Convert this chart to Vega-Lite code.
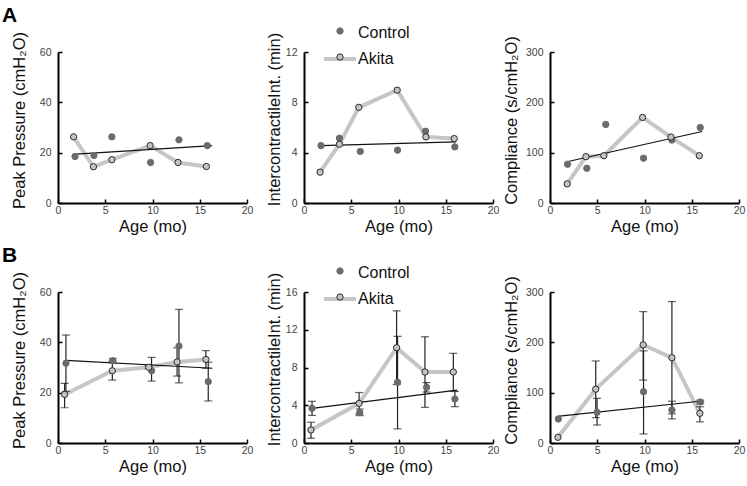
{
  "$schema": "https://vega.github.io/schema/vega-lite/v6.json",
  "padding": {"left": 2, "top": 4, "right": 5, "bottom": 5},
  "bounds": "flush",
  "columns": 3,
  "spacing": {"row": 89, "column": 57},
  "resolve": {"scale": {"color": "independent", "fill": "independent", "stroke": "independent"}, "legend": {"color": "independent", "fill": "independent", "stroke": "independent"}},
  "data": {"values": [
    {"p":"A1","g":"Control","age":1.8,"v":18.5},{"p":"A1","g":"Control","age":3.8,"v":18.9},{"p":"A1","g":"Control","age":5.7,"v":26.3},{"p":"A1","g":"Control","age":9.8,"v":16.1},{"p":"A1","g":"Control","age":12.8,"v":25.1},{"p":"A1","g":"Control","age":15.8,"v":22.8},
    {"p":"A1","g":"Akita","age":1.65,"v":26.3},{"p":"A1","g":"Akita","age":3.75,"v":14.4},{"p":"A1","g":"Akita","age":5.7,"v":17.2},{"p":"A1","g":"Akita","age":9.75,"v":22.8},{"p":"A1","g":"Akita","age":12.7,"v":16.1},{"p":"A1","g":"Akita","age":15.7,"v":14.5},
    {"p":"A1","g":"Trend","age":1.93,"v":19.4},{"p":"A1","g":"Trend","age":16.3,"v":22.8},
    {"p":"A2","g":"Control","age":1.8,"v":4.56},{"p":"A2","g":"Control","age":3.75,"v":5.15},{"p":"A2","g":"Control","age":5.96,"v":4.1},{"p":"A2","g":"Control","age":9.9,"v":4.2},{"p":"A2","g":"Control","age":12.86,"v":5.7},{"p":"A2","g":"Control","age":15.96,"v":4.46},
    {"p":"A2","g":"Akita","age":1.7,"v":2.45},{"p":"A2","g":"Akita","age":3.75,"v":4.67},{"p":"A2","g":"Akita","age":5.8,"v":7.6},{"p":"A2","g":"Akita","age":9.86,"v":8.97},{"p":"A2","g":"Akita","age":12.9,"v":5.25},{"p":"A2","g":"Akita","age":15.9,"v":5.12},
    {"p":"A2","g":"Trend","age":1.8,"v":4.56},{"p":"A2","g":"Trend","age":16.1,"v":4.85},
    {"p":"A3","g":"Control","age":1.86,"v":77},{"p":"A3","g":"Control","age":3.9,"v":69},{"p":"A3","g":"Control","age":5.9,"v":156},{"p":"A3","g":"Control","age":9.9,"v":89},{"p":"A3","g":"Control","age":12.9,"v":125},{"p":"A3","g":"Control","age":15.9,"v":150},
    {"p":"A3","g":"Akita","age":1.82,"v":38},{"p":"A3","g":"Akita","age":3.8,"v":92},{"p":"A3","g":"Akita","age":5.7,"v":94},{"p":"A3","g":"Akita","age":9.8,"v":170},{"p":"A3","g":"Akita","age":12.8,"v":131},{"p":"A3","g":"Akita","age":15.8,"v":94},
    {"p":"A3","g":"Trend","age":1.8,"v":82},{"p":"A3","g":"Trend","age":16.1,"v":142},
    {"p":"B1","g":"Control","age":0.84,"v":31.7,"lo":20.5,"hi":42.9},{"p":"B1","g":"Control","age":5.8,"v":32.7,"lo":31.8,"hi":33.6},{"p":"B1","g":"Control","age":9.9,"v":28.7,"lo":24.6,"hi":34.0},{"p":"B1","g":"Control","age":12.8,"v":38.5,"lo":23.9,"hi":53.1},{"p":"B1","g":"Control","age":15.9,"v":24.4,"lo":16.7,"hi":32.1},
    {"p":"B1","g":"Akita","age":0.7,"v":19.3,"lo":14.0,"hi":23.7},{"p":"B1","g":"Akita","age":5.75,"v":28.7,"lo":25.0,"hi":32.4},{"p":"B1","g":"Akita","age":9.6,"v":30.1,"lo":29.5,"hi":30.7},{"p":"B1","g":"Akita","age":12.6,"v":32.2,"lo":26.6,"hi":37.8},{"p":"B1","g":"Akita","age":15.65,"v":33.2,"lo":29.7,"hi":36.7},
    {"p":"B1","g":"Trend","age":0.84,"v":32.8},{"p":"B1","g":"Trend","age":16.35,"v":29.7},
    {"p":"B2","g":"Control","age":0.85,"v":3.67,"lo":2.92,"hi":4.42},{"p":"B2","g":"Control","age":5.9,"v":3.25,"lo":2.9,"hi":3.6},{"p":"B2","g":"Control","age":9.9,"v":6.43,"lo":1.5,"hi":11.3},{"p":"B2","g":"Control","age":12.97,"v":5.9,"lo":5.4,"hi":6.4},{"p":"B2","g":"Control","age":15.97,"v":4.66,"lo":3.85,"hi":5.46},
    {"p":"B2","g":"Akita","age":0.74,"v":1.38,"lo":0.5,"hi":2.2},{"p":"B2","g":"Akita","age":5.83,"v":4.2,"lo":3.05,"hi":5.35},{"p":"B2","g":"Akita","age":9.8,"v":10.1,"lo":6.2,"hi":14.0},{"p":"B2","g":"Akita","age":12.8,"v":7.52,"lo":3.78,"hi":11.26},{"p":"B2","g":"Akita","age":15.8,"v":7.52,"lo":5.5,"hi":9.5},
    {"p":"B2","g":"Trend","age":0.85,"v":3.67},{"p":"B2","g":"Trend","age":16.2,"v":5.6},
    {"p":"B3","g":"Control","age":0.88,"v":47.7},{"p":"B3","g":"Control","age":4.98,"v":61,"lo":35.8,"hi":88.8},{"p":"B3","g":"Control","age":9.9,"v":102,"lo":18,"hi":183},{"p":"B3","g":"Control","age":12.9,"v":65.6,"lo":48,"hi":83},{"p":"B3","g":"Control","age":15.9,"v":81.5,"lo":78,"hi":85},
    {"p":"B3","g":"Akita","age":0.84,"v":11.3},{"p":"B3","g":"Akita","age":4.84,"v":107,"lo":50.3,"hi":163},{"p":"B3","g":"Akita","age":9.86,"v":195,"lo":125,"hi":261},{"p":"B3","g":"Akita","age":12.9,"v":169.5,"lo":58,"hi":281},{"p":"B3","g":"Akita","age":15.86,"v":59,"lo":42,"hi":72},
    {"p":"B3","g":"Trend","age":0.77,"v":53},{"p":"B3","g":"Trend","age":16.1,"v":83.4}
  ]},
  "concat": [
    {
      "width": 189, "height": 151,
      "title": {"text": "A", "anchor": "start", "frame": "group", "fontSize": 21, "fontWeight": "bold", "color": "#000", "dx": -56, "offset": 6},
      "transform": [{"filter": "datum.p === 'A1'"}],
      "encoding": {
        "x": {"field": "age", "type": "quantitative", "scale": {"domain": [0, 20], "nice": false}, "axis": {"values": [0, 5, 10, 15, 20], "title": "Age (mo)"}},
        "y": {"field": "v", "type": "quantitative", "scale": {"domain": [0, 60], "nice": false}, "axis": {"values": [0, 20, 40, 60], "title": "Peak Pressure (cmH₂O)", "titleX": -31, "titleY": 68}}
      },
      "layer": [
        {"transform": [{"filter": "datum.g === 'Akita'"}], "mark": {"type": "line", "strokeWidth": 4, "color": "#c6c6c6"}, "encoding": {}},
        {"transform": [{"filter": "datum.g === 'Trend'"}], "mark": {"type": "line", "strokeWidth": 1.2, "color": "#111"}, "encoding": {}},
        {"transform": [{"filter": "datum.g !== 'Trend'"}], "mark": {"type": "point", "filled": true, "size": 40, "strokeWidth": 1, "opacity": 1},
         "encoding": {
           "fill": {"field": "g", "type": "nominal", "scale": {"domain": ["Control", "Akita"], "range": ["#6b6b6b", "#c4c4c4"]}, "legend": null},
           "stroke": {"field": "g", "type": "nominal", "scale": {"domain": ["Control", "Akita"], "range": ["#6b6b6b", "#2b2b2b"]}, "legend": null}
         }}
      ]
    },
    {
      "width": 189, "height": 151,
      "transform": [{"filter": "datum.p === 'A2'"}],
      "encoding": {
        "x": {"field": "age", "type": "quantitative", "scale": {"domain": [0, 20], "nice": false}, "axis": {"values": [0, 5, 10, 15, 20], "title": "Age (mo)"}},
        "y": {"field": "v", "type": "quantitative", "scale": {"domain": [0, 12], "nice": false}, "axis": {"values": [0, 4, 8, 12], "title": "IntercontractileInt. (min)", "titleX": -22, "titleY": 67}}
      },
      "layer": [
        {"transform": [{"filter": "datum.g === 'Akita'"}], "mark": {"type": "line", "strokeWidth": 4},
         "encoding": {"color": {"field": "g", "type": "nominal", "scale": {"domain": ["Akita", "Control"], "range": ["#c6c6c6", "rgba(0,0,0,0)"]},
           "legend": {"orient": "none", "legendX": 18, "legendY": -37, "values": ["Control", "Akita"], "title": null, "symbolType": "stroke", "symbolSize": 1024, "symbolStrokeWidth": 4, "labelFontSize": 16, "labelColor": "#111", "labelOffset": 0, "rowPadding": 0}}}},
        {"transform": [{"filter": "datum.g === 'Trend'"}], "mark": {"type": "line", "strokeWidth": 1.2, "color": "#111"}, "encoding": {}},
        {"transform": [{"filter": "datum.g !== 'Trend'"}], "mark": {"type": "point", "filled": true, "size": 40, "strokeWidth": 1, "opacity": 1},
         "encoding": {
           "fill": {"field": "g", "type": "nominal", "scale": {"domain": ["Control", "Akita"], "range": ["#6b6b6b", "#c4c4c4"]},
             "legend": {"orient": "none", "legendX": 28, "legendY": -29, "title": null, "symbolType": "circle", "symbolSize": 40, "symbolStrokeWidth": 1, "labelFontSize": 16, "labelExpr": "''", "rowPadding": 10}},
           "stroke": {"field": "g", "type": "nominal", "scale": {"domain": ["Control", "Akita"], "range": ["#6b6b6b", "#2b2b2b"]},
             "legend": {"orient": "none", "legendX": 28, "legendY": -29, "title": null, "symbolType": "circle", "symbolSize": 40, "symbolStrokeWidth": 1, "labelFontSize": 16, "labelExpr": "''", "rowPadding": 10}}
         }}
      ]
    },
    {
      "width": 189, "height": 151,
      "transform": [{"filter": "datum.p === 'A3'"}],
      "encoding": {
        "x": {"field": "age", "type": "quantitative", "scale": {"domain": [0, 20], "nice": false}, "axis": {"values": [0, 5, 10, 15, 20], "title": "Age (mo)"}},
        "y": {"field": "v", "type": "quantitative", "scale": {"domain": [0, 300], "nice": false}, "axis": {"values": [0, 100, 200, 300], "title": "Compliance (s/cmH₂O)", "titleX": -31, "titleY": 68}}
      },
      "layer": [
        {"transform": [{"filter": "datum.g === 'Akita'"}], "mark": {"type": "line", "strokeWidth": 4, "color": "#c6c6c6"}, "encoding": {}},
        {"transform": [{"filter": "datum.g === 'Trend'"}], "mark": {"type": "line", "strokeWidth": 1.2, "color": "#111"}, "encoding": {}},
        {"transform": [{"filter": "datum.g !== 'Trend'"}], "mark": {"type": "point", "filled": true, "size": 40, "strokeWidth": 1, "opacity": 1},
         "encoding": {
           "fill": {"field": "g", "type": "nominal", "scale": {"domain": ["Control", "Akita"], "range": ["#6b6b6b", "#c4c4c4"]}, "legend": null},
           "stroke": {"field": "g", "type": "nominal", "scale": {"domain": ["Control", "Akita"], "range": ["#6b6b6b", "#2b2b2b"]}, "legend": null}
         }}
      ]
    },
    {
      "width": 189, "height": 151,
      "title": {"text": "B", "anchor": "start", "frame": "group", "fontSize": 21, "fontWeight": "bold", "color": "#000", "dx": -56, "offset": 6},
      "transform": [{"filter": "datum.p === 'B1'"}],
      "encoding": {
        "x": {"field": "age", "type": "quantitative", "scale": {"domain": [0, 20], "nice": false}, "axis": {"values": [0, 5, 10, 15, 20], "title": "Age (mo)"}},
        "y": {"field": "v", "type": "quantitative", "scale": {"domain": [0, 60], "nice": false}, "axis": {"values": [0, 20, 40, 60], "title": "Peak Pressure (cmH₂O)", "titleX": -31, "titleY": 68}}
      },
      "layer": [
        {"transform": [{"filter": "datum.g === 'Akita'"}], "mark": {"type": "line", "strokeWidth": 4, "color": "#c6c6c6"}, "encoding": {}},
        {"transform": [{"filter": "datum.g === 'Trend'"}], "mark": {"type": "line", "strokeWidth": 1.2, "color": "#111"}, "encoding": {}},
        {"transform": [{"filter": "datum.g !== 'Trend' && isValid(datum.lo)"}], "mark": {"type": "errorbar", "ticks": true, "size": 8, "thickness": 1.2, "color": "#222"},
         "encoding": {"y": {"field": "lo", "type": "quantitative", "title": "Peak Pressure (cmH₂O)"}, "y2": {"field": "hi"}}},
        {"transform": [{"filter": "datum.g !== 'Trend'"}], "mark": {"type": "point", "filled": true, "size": 40, "strokeWidth": 1, "opacity": 1},
         "encoding": {
           "fill": {"field": "g", "type": "nominal", "scale": {"domain": ["Control", "Akita"], "range": ["#6b6b6b", "#c4c4c4"]}, "legend": null},
           "stroke": {"field": "g", "type": "nominal", "scale": {"domain": ["Control", "Akita"], "range": ["#6b6b6b", "#2b2b2b"]}, "legend": null}
         }}
      ]
    },
    {
      "width": 189, "height": 151,
      "transform": [{"filter": "datum.p === 'B2'"}],
      "encoding": {
        "x": {"field": "age", "type": "quantitative", "scale": {"domain": [0, 20], "nice": false}, "axis": {"values": [0, 5, 10, 15, 20], "title": "Age (mo)"}},
        "y": {"field": "v", "type": "quantitative", "scale": {"domain": [0, 16], "nice": false}, "axis": {"values": [0, 4, 8, 12, 16], "title": "IntercontractileInt. (min)", "titleX": -22, "titleY": 67}}
      },
      "layer": [
        {"transform": [{"filter": "datum.g === 'Akita'"}], "mark": {"type": "line", "strokeWidth": 4},
         "encoding": {"color": {"field": "g", "type": "nominal", "scale": {"domain": ["Akita", "Control"], "range": ["#c6c6c6", "rgba(0,0,0,0)"]},
           "legend": {"orient": "none", "legendX": 18, "legendY": -37, "values": ["Control", "Akita"], "title": null, "symbolType": "stroke", "symbolSize": 1024, "symbolStrokeWidth": 4, "labelFontSize": 16, "labelColor": "#111", "labelOffset": 0, "rowPadding": 0}}}},
        {"transform": [{"filter": "datum.g === 'Trend'"}], "mark": {"type": "line", "strokeWidth": 1.2, "color": "#111"}, "encoding": {}},
        {"transform": [{"filter": "datum.g !== 'Trend' && isValid(datum.lo)"}], "mark": {"type": "errorbar", "ticks": true, "size": 8, "thickness": 1.2, "color": "#222"},
         "encoding": {"y": {"field": "lo", "type": "quantitative", "title": "IntercontractileInt. (min)"}, "y2": {"field": "hi"}}},
        {"transform": [{"filter": "datum.g !== 'Trend'"}], "mark": {"type": "point", "filled": true, "size": 40, "strokeWidth": 1, "opacity": 1},
         "encoding": {
           "fill": {"field": "g", "type": "nominal", "scale": {"domain": ["Control", "Akita"], "range": ["#6b6b6b", "#c4c4c4"]},
             "legend": {"orient": "none", "legendX": 28, "legendY": -29, "title": null, "symbolType": "circle", "symbolSize": 40, "symbolStrokeWidth": 1, "labelFontSize": 16, "labelExpr": "''", "rowPadding": 10}},
           "stroke": {"field": "g", "type": "nominal", "scale": {"domain": ["Control", "Akita"], "range": ["#6b6b6b", "#2b2b2b"]},
             "legend": {"orient": "none", "legendX": 28, "legendY": -29, "title": null, "symbolType": "circle", "symbolSize": 40, "symbolStrokeWidth": 1, "labelFontSize": 16, "labelExpr": "''", "rowPadding": 10}}
         }}
      ]
    },
    {
      "width": 189, "height": 151,
      "transform": [{"filter": "datum.p === 'B3'"}],
      "encoding": {
        "x": {"field": "age", "type": "quantitative", "scale": {"domain": [0, 20], "nice": false}, "axis": {"values": [0, 5, 10, 15, 20], "title": "Age (mo)"}},
        "y": {"field": "v", "type": "quantitative", "scale": {"domain": [0, 300], "nice": false}, "axis": {"values": [0, 100, 200, 300], "title": "Compliance (s/cmH₂O)", "titleX": -31, "titleY": 68}}
      },
      "layer": [
        {"transform": [{"filter": "datum.g === 'Akita'"}], "mark": {"type": "line", "strokeWidth": 4, "color": "#c6c6c6"}, "encoding": {}},
        {"transform": [{"filter": "datum.g === 'Trend'"}], "mark": {"type": "line", "strokeWidth": 1.2, "color": "#111"}, "encoding": {}},
        {"transform": [{"filter": "datum.g !== 'Trend' && isValid(datum.lo)"}], "mark": {"type": "errorbar", "ticks": true, "size": 8, "thickness": 1.2, "color": "#222"},
         "encoding": {"y": {"field": "lo", "type": "quantitative", "title": "Compliance (s/cmH₂O)"}, "y2": {"field": "hi"}}},
        {"transform": [{"filter": "datum.g !== 'Trend'"}], "mark": {"type": "point", "filled": true, "size": 40, "strokeWidth": 1, "opacity": 1},
         "encoding": {
           "fill": {"field": "g", "type": "nominal", "scale": {"domain": ["Control", "Akita"], "range": ["#6b6b6b", "#c4c4c4"]}, "legend": null},
           "stroke": {"field": "g", "type": "nominal", "scale": {"domain": ["Control", "Akita"], "range": ["#6b6b6b", "#2b2b2b"]}, "legend": null}
         }}
      ]
    }
  ],
  "config": {
    "font": "Liberation Sans",
    "view": {"stroke": null},
    "axis": {"grid": false, "domainColor": "#000", "domainWidth": 2, "tickColor": "#000", "tickWidth": 1.5, "tickSize": -4, "labelFontSize": 10.5, "labelColor": "#444", "labelPadding": 11, "labelFlush": false, "titleFontSize": 16.5, "titleFontWeight": "normal", "titleColor": "#111"},
    "axisX": {"labelPadding": 6, "titlePadding": 2.5},
    "title": {"font": "Liberation Sans"}
  }
}
